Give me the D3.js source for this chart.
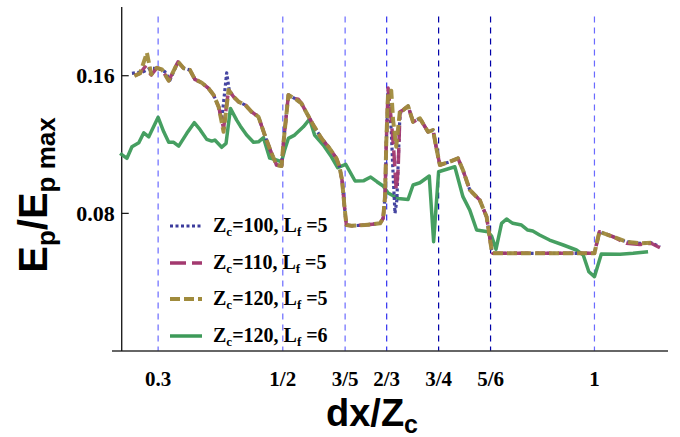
<!DOCTYPE html>
<html><head><meta charset="utf-8">
<script src="https://cdn.jsdelivr.net/npm/d3@7"></script>
<style>body{margin:0;background:#fff}svg{display:block}</style>
</head><body>
<svg id="c" width="680" height="437"></svg>
<script>
// ---------- data ----------
const xTickValues = [0.3, 1/2, 3/5, 2/3, 3/4, 5/6, 1];
const xTickLabels = ["0.3", "1/2", "3/5", "2/3", "3/4", "5/6", "1"];
const yTickValues = [0.08, 0.16];
const yTickLabels = ["0.08", "0.16"];

const seriesNames = ["Zc=100, Lf=5", "Zc=110, Lf=5", "Zc=120, Lf=5", "Zc=120, Lf=6"];
const legendZc = ["100", "110", "120", "120"];
const legendLf = ["5", "5", "5", "6"];

const zc100lf5 = [[0.258,0.1614],[0.276,0.1623],[0.287,0.1643],[0.300,0.1643],[0.311,0.1623],[0.319,0.1575],[0.332,0.1681],[0.341,0.1643],[0.351,0.1633],[0.359,0.1579],[0.370,0.1559],[0.381,0.1526],[0.389,0.1488],[0.397,0.1420],[0.402,0.1342],[0.410,0.1617],[0.414,0.1517],[0.421,0.1478],[0.429,0.1449],[0.440,0.1429],[0.450,0.1390],[0.461,0.1361],[0.472,0.1245],[0.481,0.1158],[0.490,0.1081],[0.498,0.1075],[0.501,0.1207],[0.509,0.1488],[0.519,0.1468],[0.530,0.1439],[0.538,0.1385],[0.549,0.1313],[0.562,0.1236],[0.575,0.1178],[0.586,0.1120],[0.591,0.1071],[0.595,0.0994],[0.599,0.0838],[0.602,0.0732],[0.610,0.0728],[0.632,0.0732],[0.656,0.0742],[0.661,0.0771],[0.664,0.0897],[0.666,0.1207],[0.669,0.1498],[0.674,0.1284],[0.677,0.1023],[0.680,0.0800],[0.683,0.0877],[0.688,0.1381],[0.693,0.1400],[0.701,0.1424],[0.709,0.1332],[0.720,0.1352],[0.733,0.1274],[0.741,0.1284],[0.747,0.1168],[0.752,0.1081],[0.768,0.1100],[0.781,0.1120],[0.789,0.1052],[0.800,0.0936],[0.816,0.0877],[0.827,0.0780],[0.835,0.0587],[0.837,0.0568],[1.000,0.0568],[1.008,0.0693],[1.030,0.0664],[1.051,0.0635],[1.073,0.0626],[1.091,0.0629],[1.105,0.0606]];

const zc110lf5 = [[0.262,0.1600],[0.271,0.1614],[0.279,0.1652],[0.289,0.1604],[0.298,0.1646],[0.306,0.1637],[0.317,0.1571],[0.332,0.1681],[0.341,0.1643],[0.351,0.1633],[0.359,0.1579],[0.370,0.1559],[0.381,0.1526],[0.389,0.1488],[0.397,0.1420],[0.405,0.1294],[0.413,0.1517],[0.421,0.1478],[0.429,0.1449],[0.440,0.1429],[0.450,0.1390],[0.461,0.1361],[0.472,0.1245],[0.481,0.1158],[0.490,0.1081],[0.498,0.1075],[0.501,0.1207],[0.509,0.1488],[0.519,0.1466],[0.525,0.1463],[0.530,0.1439],[0.538,0.1385],[0.549,0.1313],[0.562,0.1236],[0.575,0.1178],[0.586,0.1120],[0.591,0.1071],[0.595,0.0994],[0.599,0.0838],[0.602,0.0732],[0.610,0.0728],[0.632,0.0732],[0.656,0.0742],[0.661,0.0771],[0.664,0.0897],[0.666,0.1207],[0.669,0.1528],[0.674,0.1342],[0.678,0.1168],[0.682,0.0936],[0.685,0.1052],[0.688,0.1390],[0.693,0.1400],[0.701,0.1424],[0.709,0.1332],[0.720,0.1352],[0.733,0.1274],[0.741,0.1284],[0.747,0.1168],[0.752,0.1081],[0.768,0.1100],[0.781,0.1120],[0.789,0.1052],[0.800,0.0936],[0.816,0.0877],[0.827,0.0780],[0.835,0.0587],[0.837,0.0568],[1.000,0.0568],[1.008,0.0693],[1.030,0.0664],[1.051,0.0626],[1.073,0.0619],[1.091,0.0626],[1.105,0.0600]];

const zc120lf5 = [[0.262,0.1598],[0.271,0.1614],[0.282,0.1733],[0.289,0.1608],[0.298,0.1646],[0.306,0.1637],[0.317,0.1571],[0.332,0.1681],[0.341,0.1643],[0.351,0.1633],[0.359,0.1579],[0.370,0.1559],[0.381,0.1526],[0.389,0.1488],[0.397,0.1420],[0.405,0.1274],[0.413,0.1517],[0.421,0.1478],[0.429,0.1449],[0.440,0.1429],[0.450,0.1390],[0.461,0.1361],[0.472,0.1245],[0.481,0.1158],[0.490,0.1081],[0.498,0.1075],[0.501,0.1207],[0.509,0.1488],[0.519,0.1468],[0.530,0.1439],[0.538,0.1385],[0.549,0.1313],[0.562,0.1236],[0.575,0.1178],[0.586,0.1120],[0.591,0.1071],[0.595,0.0994],[0.599,0.0838],[0.602,0.0732],[0.610,0.0728],[0.632,0.0732],[0.656,0.0742],[0.661,0.0771],[0.664,0.0897],[0.666,0.1207],[0.669,0.1507],[0.674,0.1513],[0.677,0.1342],[0.682,0.1187],[0.688,0.1400],[0.693,0.1400],[0.701,0.1424],[0.709,0.1332],[0.720,0.1352],[0.733,0.1274],[0.741,0.1284],[0.747,0.1168],[0.752,0.1081],[0.768,0.1100],[0.781,0.1120],[0.789,0.1052],[0.800,0.0936],[0.816,0.0877],[0.827,0.0780],[0.835,0.0587],[0.837,0.0568],[1.000,0.0568],[1.008,0.0693],[1.030,0.0664],[1.051,0.0635],[1.073,0.0626],[1.091,0.0629]];

const zc120lf6 = [[0.239,0.1149],[0.250,0.1120],[0.258,0.1187],[0.269,0.1210],[0.277,0.1268],[0.285,0.1245],[0.300,0.1358],[0.309,0.1274],[0.317,0.1213],[0.325,0.1213],[0.333,0.1191],[0.346,0.1265],[0.358,0.1327],[0.367,0.1288],[0.378,0.1230],[0.386,0.1220],[0.391,0.1226],[0.402,0.1184],[0.409,0.1207],[0.416,0.1410],[0.426,0.1342],[0.432,0.1307],[0.442,0.1255],[0.453,0.1213],[0.461,0.1216],[0.469,0.1240],[0.479,0.1121],[0.487,0.1114],[0.498,0.1100],[0.503,0.1168],[0.509,0.1236],[0.519,0.1255],[0.533,0.1303],[0.543,0.1348],[0.551,0.1255],[0.565,0.1197],[0.578,0.1129],[0.588,0.1066],[0.601,0.1085],[0.616,0.0988],[0.630,0.0990],[0.641,0.1011],[0.651,0.0984],[0.661,0.0959],[0.669,0.0918],[0.685,0.0887],[0.701,0.0881],[0.709,0.0965],[0.720,0.0978],[0.735,0.1017],[0.742,0.0635],[0.750,0.1042],[0.776,0.1071],[0.789,0.0897],[0.800,0.0819],[0.811,0.0703],[0.829,0.0693],[0.835,0.0668],[0.842,0.0591],[0.851,0.0742],[0.859,0.0767],[0.869,0.0742],[0.883,0.0732],[0.893,0.0703],[0.901,0.0697],[0.912,0.0674],[0.928,0.0645],[0.950,0.0616],[0.971,0.0587],[0.982,0.0558],[0.991,0.0461],[1.000,0.0432],[1.011,0.0564],[1.041,0.0562],[1.062,0.0568],[1.086,0.0577]];

// ---------- layout ----------
const svg = d3.select("#c");
const x = d3.scaleLinear().domain([0.226, 1.118]).range([112, 668]);
const y = d3.scaleLinear().domain([0, 0.2]).range([351, 6.9]);
const yAxisAt = 0.2416;
const serif = "'Liberation Serif','Times New Roman',serif";
const sans = "'Liberation Sans',Arial,sans-serif";

// vertical dashed reference lines
const refColor = i => (i === 4 || i === 5) ? "#0000a8" : (i === 3 ? "#3030f0" : "#6a6aff");
svg.append("g").selectAll("line").data(xTickValues).join("line")
  .attr("x1", d => x(d)).attr("x2", d => x(d))
  .attr("y1", 16.5).attr("y2", y(0))
  .attr("stroke", (d, i) => refColor(i))
  .attr("stroke-width", 1.2)
  .attr("stroke-dasharray", "6,5");

// axes lines
svg.append("line").attr("x1", x(0.226)).attr("x2", x(1.118)).attr("y1", y(0)).attr("y2", y(0))
  .attr("stroke", "#333").attr("stroke-width", 1.5);
svg.append("line").attr("x1", x(yAxisAt)).attr("x2", x(yAxisAt)).attr("y1", y(0.2)).attr("y2", y(0))
  .attr("stroke", "#111").attr("stroke-width", 1.3);

// y ticks
const yg = svg.append("g");
yg.selectAll("line").data(yTickValues).join("line")
  .attr("x1", x(yAxisAt)).attr("x2", x(yAxisAt) + 7)
  .attr("y1", d => y(d)).attr("y2", d => y(d))
  .attr("stroke", "#111").attr("stroke-width", 1.2);
yg.selectAll("text").data(yTickValues).join("text")
  .attr("x", x(yAxisAt) - 7).attr("y", d => y(d) + 7.5)
  .attr("text-anchor", "end")
  .attr("font-family", serif).attr("font-weight", "bold").attr("font-size", 22)
  .text((d, i) => yTickLabels[i]);

// x tick labels
svg.append("g").selectAll("text").data(xTickValues).join("text")
  .attr("x", d => x(d)).attr("y", 386)
  .attr("text-anchor", "middle")
  .attr("font-family", serif).attr("font-weight", "bold").attr("font-size", 21)
  .text((d, i) => xTickLabels[i]);

// series
const line = d3.line().x(d => x(d[0])).y(d => y(d[1]));
const styles = [
  {color: "#3b3b9c", width: 3.2, dash: "3,2.5"},
  {color: "#a3396f", width: 3.5, dash: "16,6"},
  {color: "#a08b3c", width: 4, dash: "10,4"},
  {color: "#3c9a58", width: 3.5, dash: null}
];
const allSeries = [zc100lf5, zc110lf5, zc120lf5, zc120lf6];
const order = [3, 0, 1, 2];
order.forEach(i => {
  svg.append("path").datum(allSeries[i])
    .attr("d", line)
    .attr("fill", "none")
    .attr("stroke", styles[i].color)
    .attr("stroke-width", styles[i].width)
    .attr("stroke-linejoin", "round")
    .attr("stroke-dasharray", styles[i].dash)
    .attr("opacity", 0.95);
});

// legend
const legRowsY = [226, 263, 299, 336];
const lg = svg.append("g");
seriesNames.forEach((name, i) => {
  const ly = legRowsY[i];
  lg.append("line").attr("x1", 170).attr("x2", 202).attr("y1", ly).attr("y2", ly)
    .attr("stroke", styles[i].color).attr("stroke-width", styles[i].width)
    .attr("stroke-dasharray", styles[i].dash);
  const t = lg.append("text").attr("x", 213).attr("y", ly + 6)
    .attr("font-family", serif).attr("font-weight", "bold").attr("font-size", 20);
  t.append("tspan").text("Z");
  t.append("tspan").attr("font-size", 13).attr("dy", 4).text("c");
  t.append("tspan").attr("dy", -4).text("=" + legendZc[i] + ", L");
  t.append("tspan").attr("font-size", 13).attr("dy", 4).text("f");
  t.append("tspan").attr("dy", -4).text(" =" + legendLf[i]);
});

// axis titles
const xt = svg.append("text").attr("x", 372).attr("y", 426)
  .attr("text-anchor", "middle")
  .attr("font-family", sans).attr("font-weight", "bold").attr("font-size", 38);
xt.append("tspan").text("dx/Z");
xt.append("tspan").attr("font-size", 25).attr("dy", 7).text("c");

const yt = svg.append("text")
  .attr("transform", "translate(47,195) rotate(-90)")
  .attr("text-anchor", "middle")
  .attr("font-family", sans).attr("font-weight", "bold").attr("font-size", 40);
yt.append("tspan").text("E");
yt.append("tspan").attr("font-size", 26).attr("dy", 8).text("p");
yt.append("tspan").attr("dy", -8).text("/E");
yt.append("tspan").attr("font-size", 26).attr("dy", 8).text("p max");
</script>
</body></html>
